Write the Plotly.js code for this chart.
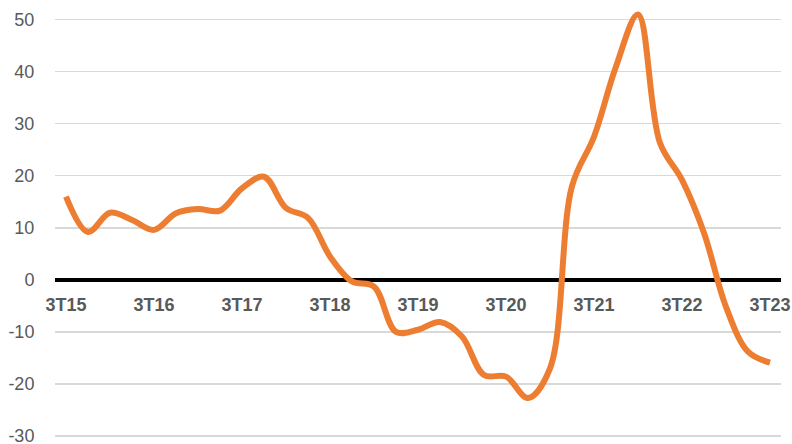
<!DOCTYPE html>
<html><head><meta charset="utf-8">
<script src="https://cdn.plot.ly/plotly-3.0.1.min.js"></script>
<style>html,body{margin:0;padding:0;background:#fff}#chart{width:792px;height:444px}</style>
</head><body><div id="chart"></div>
<script>
const quarters = ["3T15","4T15","1T16","2T16","3T16","4T16","1T17","2T17","3T17","4T17","1T18","2T18","3T18","4T18","1T19","2T19","3T19","4T19","1T20","2T20","3T20","4T20","1T21","2T21","3T21","4T21","1T22","2T22","3T22","4T22","1T23","2T23","3T23"];
const values = [16, 9.2, 12.9, 11.5, 9.6, 12.8, 13.6, 13.3, 17.6, 19.8, 13.8, 11.9, 4.5, -0.3, -1.3, -10, -9.6, -8.1, -10.9, -18.3, -18.6, -22.7, -17, 18, 27.5, 41, 51, 26.3, 19.2, 9, -5.2, -13.8, -15.9];
const tickLabels = ["3T15","3T16","3T17","3T18","3T19","3T20","3T21","3T22","3T23"];
const yTicks = [-30,-20,-10,0,10,20,30,40,50];
const yTickText = ["-30","-20","-10","0","10","20","30","40","50"];

const trace = {
  x: quarters.map((q,i)=>i),
  y: values,
  type: 'scatter', mode: 'lines',
  line: {color: '#ED7D31', width: 6, shape: 'spline', smoothing: 1},
  cliponaxis: false,
  hoverinfo: 'skip'
};
const yMin = -30.2, yMax = 53;
const layout = {
  width: 792, height: 444,
  margin: {l: 55, r: 11, t: 4.4, b: 7},
  paper_bgcolor: '#fff', plot_bgcolor: '#fff',
  showlegend: false,
  font: {family: 'Liberation Sans, Arial, sans-serif', color: '#595959', size: 18},
  xaxis: {
    range: [-0.5, 32.5],
    anchor: 'free', position: (0 - yMin) / (yMax - yMin),
    tickvals: tickLabels.map(t => quarters.indexOf(t)),
    ticktext: tickLabels,
    tickfont: {family: 'Liberation Sans, Arial, sans-serif', size: 18, color: '#595959', weight: 'bold'},
    showgrid: false, zeroline: false, showline: false,
    ticks: 'outside', ticklen: 9, tickcolor: 'rgba(0,0,0,0)'
  },
  yaxis: {
    range: [yMin, yMax],
    tickvals: yTicks,
    ticktext: yTickText,
    tickfont: {size: 18, color: '#595959'},
    ticklabeloverflow: 'allow',
    showgrid: true, gridcolor: '#d9d9d9', gridwidth: 1.5,
    zeroline: true, zerolinecolor: '#000', zerolinewidth: 4,
    showline: false,
    ticks: 'outside', ticklen: 16, tickcolor: 'rgba(0,0,0,0)'
  }
};
Plotly.newPlot('chart', [trace], layout, {staticPlot: true, displayModeBar: false});
</script>
</body></html>
